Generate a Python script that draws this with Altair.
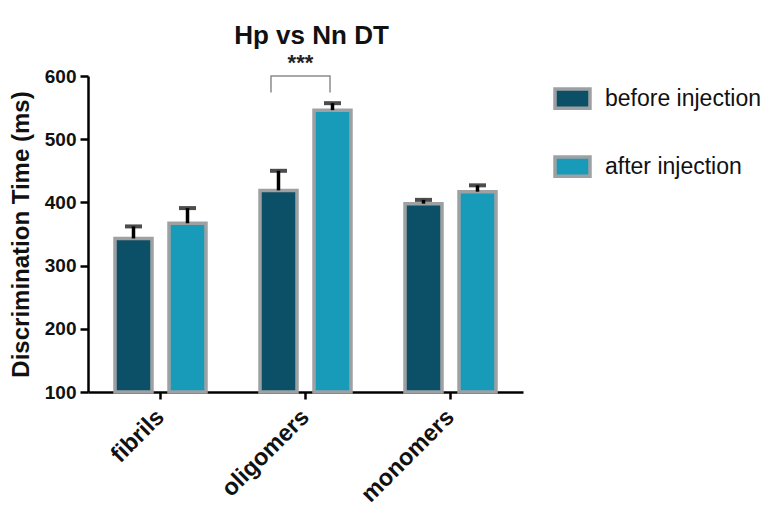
import altair as alt
import pandas as pd

# Discrimination time per aggregate form, before and after injection
groups = ["fibrils", "oligomers", "monomers"]
series = ["before injection", "after injection"]
before_mean = [343, 419, 398]
before_sem = [19, 31, 6]
after_mean = [367, 546, 417]
after_sem = [24, 11, 10]

colors = ["#0b5066", "#179bb8"]
FONT = "Liberation Sans"

rows = []
for g, m, e in zip(groups, before_mean, before_sem):
    rows.append({"group": g, "series": series[0], "mean": m, "upper": m + e})
for g, m, e in zip(groups, after_mean, after_sem):
    rows.append({"group": g, "series": series[1], "mean": m, "upper": m + e})
df = pd.DataFrame(rows)

# significance bracket between the two oligomer bars (x in group units)
bracket_x = [1.262, 1.262, 1.669, 1.669]
bracket_y = [574, 600, 600, 574]
bracket = pd.DataFrame({"bx": bracket_x, "by": bracket_y, "order": [0, 1, 2, 3]})
star = pd.DataFrame({"bx": [1.465], "by": [620], "label": ["***"]})

x_enc = alt.X(
    "group:N",
    sort=groups,
    scale=alt.Scale(paddingInner=0, paddingOuter=0),
    axis=alt.Axis(
        title=None,
        labelAngle=-45,
        labelAlign="right",
        labelBaseline="middle",
        labelFontSize=23.5,
        labelFontWeight="bold",
        labelFont=FONT,
        labelColor="#111111",
        labelPadding=14,
        domainColor="#000000",
        domainWidth=2.5,
        tickColor="#000000",
        tickWidth=2.5,
        tickSize=7,
    ),
)
xoff = alt.XOffset(
    "series:N", sort=series, scale=alt.Scale(paddingInner=0.315, paddingOuter=0.5)
)
y_scale = alt.Scale(domain=[100, 600], nice=False, zero=False)
y_enc = alt.Y(
    "mean:Q",
    scale=y_scale,
    axis=alt.Axis(
        title="Discrimination Time (ms)",
        titleFontSize=24,
        titleFontWeight="bold",
        titleFont=FONT,
        titleColor="#111111",
        titlePadding=11,
        values=[100, 200, 300, 400, 500, 600],
        labelFontSize=19,
        labelFontWeight="bold",
        labelFont=FONT,
        labelColor="#111111",
        labelPadding=4,
        domainColor="#000000",
        domainWidth=2.5,
        tickColor="#000000",
        tickWidth=2.5,
        tickSize=8,
        grid=False,
    ),
)

bars = alt.Chart(df).mark_bar(stroke="#9ea1a4", strokeWidth=3.5).encode(
    x=x_enc,
    xOffset=xoff,
    y=y_enc,
    y2=alt.datum(100),
    fill=alt.Fill(
        "series:N",
        sort=series,
        scale=alt.Scale(domain=series, range=colors),
        legend=alt.Legend(
            title=None,
            orient="none",
            legendX=465,
            legendY=3,
            symbolType="M-1,-0.55H1V0.55H-1Z",
            symbolSize=1225,
            symbolStrokeColor="#9ea1a4",
            symbolStrokeWidth=3.5,
            symbolOpacity=1,
            labelFontSize=23,
            labelFont=FONT,
            labelColor="#111111",
            labelOffset=13,
            rowPadding=31,
        ),
    ),
)

err = alt.Chart(df).mark_rule(color="#000000", strokeWidth=3.5).encode(
    x=alt.X("group:N", sort=groups),
    xOffset=xoff,
    y=alt.Y("mean:Q", scale=y_scale),
    y2="upper:Q",
)
caps = alt.Chart(df).mark_tick(color="#000000", size=17, thickness=4).encode(
    x=alt.X("group:N", sort=groups),
    xOffset=xoff,
    y=alt.Y("upper:Q", scale=y_scale),
)

bx_scale = alt.Scale(domain=[0, 3], nice=False, zero=False)
bracket_line = alt.Chart(bracket).mark_line(color="#8c8c8c", strokeWidth=1.5).encode(
    x=alt.X("bx:Q", scale=bx_scale, axis=None),
    y=alt.Y("by:Q", scale=y_scale),
    order="order:Q",
)
star_text = alt.Chart(star).mark_text(
    fontSize=22, fontWeight="bold", font=FONT, color="#222222", baseline="middle"
).encode(
    x=alt.X("bx:Q", scale=bx_scale, axis=None),
    y=alt.Y("by:Q", scale=y_scale),
    text="label:N",
)

main = alt.layer(bars, err, caps)
sig = alt.layer(bracket_line, star_text)

chart = (
    alt.layer(main, sig)
    .resolve_scale(x="independent")
    .properties(
        width=435,
        height=316,
        title=alt.TitleParams(
            "Hp vs Nn DT",
            fontSize=26,
            fontWeight="bold",
            font=FONT,
            color="#111111",
            anchor="middle",
            dx=6,
            offset=3,
        ),
        autosize=alt.AutoSizeParams(type="none"),
        padding={"left": 88, "top": 76, "right": 244, "bottom": 114},
        background="#ffffff",
    )
    .configure_view(stroke=None)
)

chart.save("out.html", embed_options={"renderer": "svg", "actions": False})
